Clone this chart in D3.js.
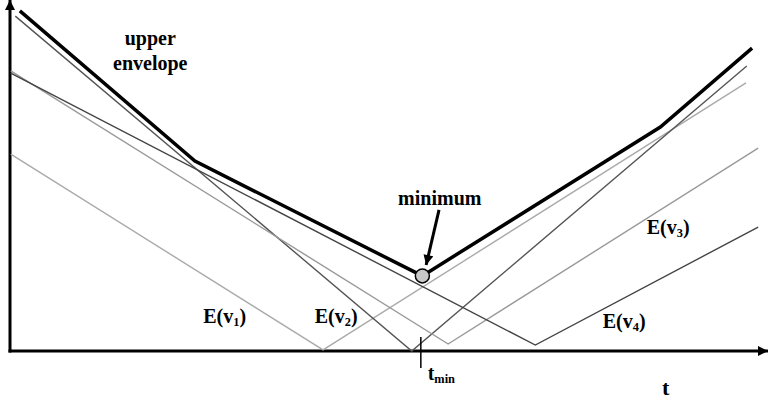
<!DOCTYPE html>
<html>
<head>
<meta charset="utf-8">
<script src="https://cdn.jsdelivr.net/npm/d3@7"></script>
<style>
  body { margin: 0; background: #fff; }
  svg { display: block; }
  text.lbl { font-family: "Liberation Serif", "Times New Roman", Times, serif; font-weight: bold; fill: #000; }
</style>
</head>
<body>
<script>
// V-shaped energy curves E(v_i): [t, E] for start, vertex, end
const v1 = [[0.1, 56.1], [41.3, 0.3], [97.1, 76.4]];
const v2 = [[0.7, 95.4], [53.0, 0.0], [97.2, 81.2]];
const v3 = [[0.1, 79.8], [57.8, 2.0], [98.7, 57.8]];
const v4 = [[0.1, 79.2], [69.3, 1.7], [98.7, 35.3]];
// upper envelope of the curves
const envelope = [[1.3, 96.9], [24.4, 54.1], [54.4, 21.4], [85.8, 63.8], [97.9, 86.3]];
const minimum = [54.4, 21.4];
const tMin = 54.2;

const width = 768, height = 404;
const serif = "'Liberation Serif', 'Times New Roman', Times, serif";

const svg = d3.select("body").append("svg")
  .attr("width", width)
  .attr("height", height);

let x = d3.scaleLinear().domain([0, 100]).range([10, 768]);
let y = d3.scaleLinear().domain([0, 100]).range([351, 0]);

let defs = svg.append("defs");
defs.append("marker")
  .attr("id", "axisArrow")
  .attr("markerUnits", "userSpaceOnUse")
  .attr("viewBox", "0 0 10 10")
  .attr("refX", 10).attr("refY", 5)
  .attr("markerWidth", 10).attr("markerHeight", 11)
  .attr("orient", "auto")
  .append("path").attr("d", "M0,0L10,5L0,10Z").attr("fill", "#000");
defs.append("marker")
  .attr("id", "noteArrow")
  .attr("markerUnits", "userSpaceOnUse")
  .attr("viewBox", "0 0 10 10")
  .attr("refX", 10).attr("refY", 5)
  .attr("markerWidth", 11).attr("markerHeight", 10)
  .attr("orient", "auto")
  .append("path").attr("d", "M0,0L10,5L0,10Z").attr("fill", "#000");

// axes
svg.append("line")
  .attr("x1", x(0)).attr("y1", y(0) + 1.5)
  .attr("x2", x(0)).attr("y2", 0)
  .attr("stroke", "#000").attr("stroke-width", 3)
  .attr("marker-end", "url(#axisArrow)");
svg.append("line")
  .attr("x1", x(0) - 1.5).attr("y1", y(0))
  .attr("x2", x(100)).attr("y2", y(0))
  .attr("stroke", "#000").attr("stroke-width", 3)
  .attr("marker-end", "url(#axisArrow)");

let line = d3.line()
  .x(d => x(d[0]))
  .y(d => y(d[1]));

// the four curves
let curves = [
  { data: v1, color: "#aaaaaa" },
  { data: v2, color: "#555555" },
  { data: v3, color: "#999999" },
  { data: v4, color: "#444444" }
];
svg.selectAll(".curve")
  .data(curves)
  .enter()
  .append("path")
  .attr("class", "curve")
  .attr("d", d => line(d.data))
  .attr("fill", "none")
  .attr("stroke", d => d.color)
  .attr("stroke-width", 1.4);

// upper envelope
svg.append("path")
  .attr("d", line(envelope))
  .attr("fill", "none")
  .attr("stroke", "#000")
  .attr("stroke-width", 3.5)
  .attr("stroke-linejoin", "miter");

// tmin tick
svg.append("line")
  .attr("x1", x(tMin)).attr("x2", x(tMin))
  .attr("y1", y(0) - 14).attr("y2", y(0) + 17)
  .attr("stroke", "#000").attr("stroke-width", 1.5);

// arrow to minimum
svg.append("line")
  .attr("x1", x(56.6)).attr("y1", y(40.2))
  .attr("x2", x(54.9)).attr("y2", y(24.5))
  .attr("stroke", "#000").attr("stroke-width", 3)
  .attr("marker-end", "url(#noteArrow)");

svg.append("circle")
  .attr("cx", x(minimum[0]))
  .attr("cy", y(minimum[1]))
  .attr("r", 7)
  .attr("fill", "#c8c8c8")
  .attr("stroke", "#000")
  .attr("stroke-width", 1.5);

// labels
function label(tx, ey, parts, size, anchor) {
  let t = svg.append("text")
    .attr("class", "lbl")
    .attr("font-family", serif)
    .attr("font-weight", "bold")
    .attr("x", x(tx)).attr("y", y(ey))
    .attr("font-size", size)
    .attr("text-anchor", anchor || "start");
  parts.forEach(p => {
    let s = t.append("tspan").text(p.text);
    if (p.sub) s.attr("font-size", size * 0.62).attr("dy", 3);
    if (p.back) s.attr("dy", -3);
  });
}

label(18.5, 87.2, [{ text: "upper" }], 20, "middle");
label(18.5, 80.1, [{ text: "envelope" }], 20, "middle");
label(56.7, 41.6, [{ text: "minimum" }], 20, "middle");
label(25.5, 8.0, [{ text: "E(v" }, { text: "1", sub: true }, { text: ")", back: true }], 20);
label(40.2, 8.0, [{ text: "E(v" }, { text: "2", sub: true }, { text: ")", back: true }], 20);
label(84.0, 33.3, [{ text: "E(v" }, { text: "3", sub: true }, { text: ")", back: true }], 20);
label(78.2, 6.6, [{ text: "E(v" }, { text: "4", sub: true }, { text: ")", back: true }], 20);
label(55.1, -8.3, [{ text: "t" }, { text: "min", sub: true }], 20);
label(86.5, -12.5, [{ text: "t" }], 22, "middle");
</script>
</body>
</html>
